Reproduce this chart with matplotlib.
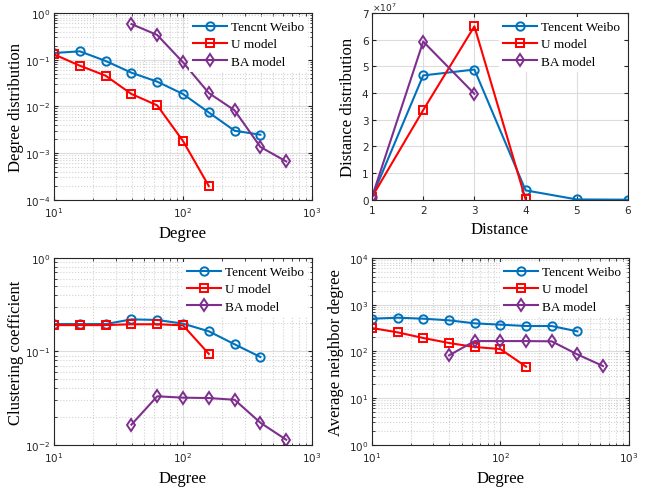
import matplotlib.pyplot as plt
from matplotlib.ticker import LogLocator, NullFormatter

# degree bins (log spaced)
deg = [10, 15.85, 25.12, 39.81, 63.1, 100, 158.5, 251.2, 398.1, 631]

# degree distribution
dd_tw = [0.139, 0.151, 0.094, 0.0526, 0.0338, 0.0184, 0.0074, 0.0030, 0.00247]
dd_u = [0.130, 0.0744, 0.0454, 0.0184, 0.0105, 0.00181, 0.000196]
dd_ba = [0.58, 0.338, 0.0877, 0.0193, 0.0082, 0.00135, 0.00066]

# distance distribution
dist_tw_x = [1, 2, 3, 4, 5, 6]
dist_tw = [0.1e7, 4.66e7, 4.88e7, 0.35e7, 0.01e7, 0.0]
dist_u_x = [1, 2, 3, 4]
dist_u = [0.1e7, 3.36e7, 6.50e7, 0.01e7]
dist_ba_x = [1, 2, 3]
dist_ba = [0.1e7, 5.93e7, 3.97e7]

# clustering coefficient
cc_tw = [0.196, 0.196, 0.196, 0.220, 0.217, 0.198, 0.164, 0.119, 0.087]
cc_u = [0.191, 0.191, 0.191, 0.195, 0.195, 0.190, 0.094]
cc_ba = [0.0164, 0.033, 0.0319, 0.0316, 0.0303, 0.0172, 0.0113]

# average neighbor degree
an_tw = [501, 526, 501, 462, 398, 373, 349, 349, 268]
an_u = [316, 255, 193, 151, 124, 112, 47]
an_ba = [82, 166, 166, 166, 164, 86, 48.5]

BLUE = '#0072BD'
RED = '#FF0000'
PURPLE = '#7E2F8E'
SERIF = 'Liberation Serif'
TICK = '#262626'

plt.rcParams['font.family'] = 'DejaVu Sans'
plt.rcParams['mathtext.fontset'] = 'dejavusans'

fig = plt.figure(figsize=(6.52, 4.89), dpi=100)

W, H = 652, 489
def box(l, t, r, b):
    return [l / W, (H - b) / H, (r - l) / W, (b - t) / H]

ax1 = fig.add_axes(box(54, 14, 312, 200.7))
ax2 = fig.add_axes(box(372, 14, 628, 200.7))
ax3 = fig.add_axes(box(54, 259, 312, 445.7))
ax4 = fig.add_axes(box(372, 259, 628.7, 445.7))

line_kw = dict(linewidth=1.5, markersize=6, markerfacecolor='none', markeredgewidth=1.4)


def style(ax, log=True):
    for s in ax.spines.values():
        s.set_color(TICK)
        s.set_linewidth(0.8)
    ax.tick_params(axis='both', which='both', direction='in', labelsize=7.5,
                   colors=TICK, top=True, right=True, length=3)
    ax.tick_params(axis='x', pad=4)
    ax.tick_params(axis='y', pad=2.5)
    ax.tick_params(which='minor', length=1.8)
    ax.set_axisbelow(True)
    ax.grid(True, which='major', color='#dcdcdc', linewidth=0.8)
    if log:
        ax.grid(True, which='minor', color='#d2d2d2', linestyle=':', linewidth=0.8)
    leg = ax.legend(loc='upper right', prop={'family': SERIF, 'size': 9.5},
                    frameon=True, fancybox=False, handlelength=2.6,
                    borderaxespad=0.3, labelspacing=0.38, handletextpad=0.3,
                    borderpad=0.3)
    leg.get_frame().set_edgecolor('none')
    leg.get_frame().set_facecolor('white')
    leg.get_frame().set_alpha(1)


def log_axes(ax, ylo, yhi):
    ax.set_xscale('log')
    ax.set_yscale('log')
    ax.set_xlim(10, 1000)
    ax.set_ylim(ylo, yhi)
    for axis in (ax.xaxis, ax.yaxis):
        axis.set_major_locator(LogLocator(base=10, numticks=20))
        axis.set_minor_locator(LogLocator(base=10, subs=range(2, 10), numticks=20))
        axis.set_minor_formatter(NullFormatter())


# panel 1
ax1.plot(deg[:9], dd_tw, color=BLUE, marker='o', label='Tencnt Weibo', **line_kw)
ax1.plot(deg[:7], dd_u, color=RED, marker='s', label='U model', **line_kw)
ax1.plot(deg[3:], dd_ba, color=PURPLE, marker='d', label='BA model', **line_kw)
log_axes(ax1, 1e-4, 1)
ax1.set_xlabel('Degree', family=SERIF, fontsize=12)
ax1.set_ylabel('Degree distribution', family=SERIF, fontsize=12)
ax1.yaxis.set_label_coords(-0.115, 0.5)
style(ax1)

# panel 2
ax2.plot(dist_tw_x, dist_tw, color=BLUE, marker='o', label='Tencent Weibo', **line_kw)
ax2.plot(dist_u_x, dist_u, color=RED, marker='s', label='U model', **line_kw)
ax2.plot(dist_ba_x, dist_ba, color=PURPLE, marker='d', label='BA model', **line_kw)
ax2.set_xlim(1, 6)
ax2.set_ylim(0, 7e7)
ax2.set_xticks([1, 2, 3, 4, 5, 6])
ax2.set_yticks([i * 1e7 for i in range(8)])
ax2.set_yticklabels([str(i) for i in range(8)])
ax2.text(0.0, 1.0, r'$\times10^7$', transform=ax2.transAxes, fontsize=6.5,
         color=TICK, ha='left', va='bottom')
ax2.set_xlabel('Distance', family=SERIF, fontsize=12)
ax2.set_ylabel('Distance distribution', family=SERIF, fontsize=12)
style(ax2, log=False)

# panel 3
ax3.plot(deg[:9], cc_tw, color=BLUE, marker='o', label='Tencent Weibo', **line_kw)
ax3.plot(deg[:7], cc_u, color=RED, marker='s', label='U model', **line_kw)
ax3.plot(deg[3:], cc_ba, color=PURPLE, marker='d', label='BA model', **line_kw)
log_axes(ax3, 1e-2, 1)
ax3.set_xlabel('Degree', family=SERIF, fontsize=12)
ax3.set_ylabel('Clustering coefficient', family=SERIF, fontsize=12)
ax3.yaxis.set_label_coords(-0.115, 0.5)
style(ax3)

# panel 4
ax4.plot(deg[:9], an_tw, color=BLUE, marker='o', label='Tencent Weibo', **line_kw)
ax4.plot(deg[:7], an_u, color=RED, marker='s', label='U model', **line_kw)
ax4.plot(deg[3:], an_ba, color=PURPLE, marker='d', label='BA model', **line_kw)
log_axes(ax4, 1, 1e4)
ax4.set_xlabel('Degree', family=SERIF, fontsize=12)
ax4.set_ylabel('Average neighbor degree', family=SERIF, fontsize=12)
ax4.yaxis.set_label_coords(-0.11, 0.5)
style(ax4)

fig.savefig('out.png', dpi=100)
